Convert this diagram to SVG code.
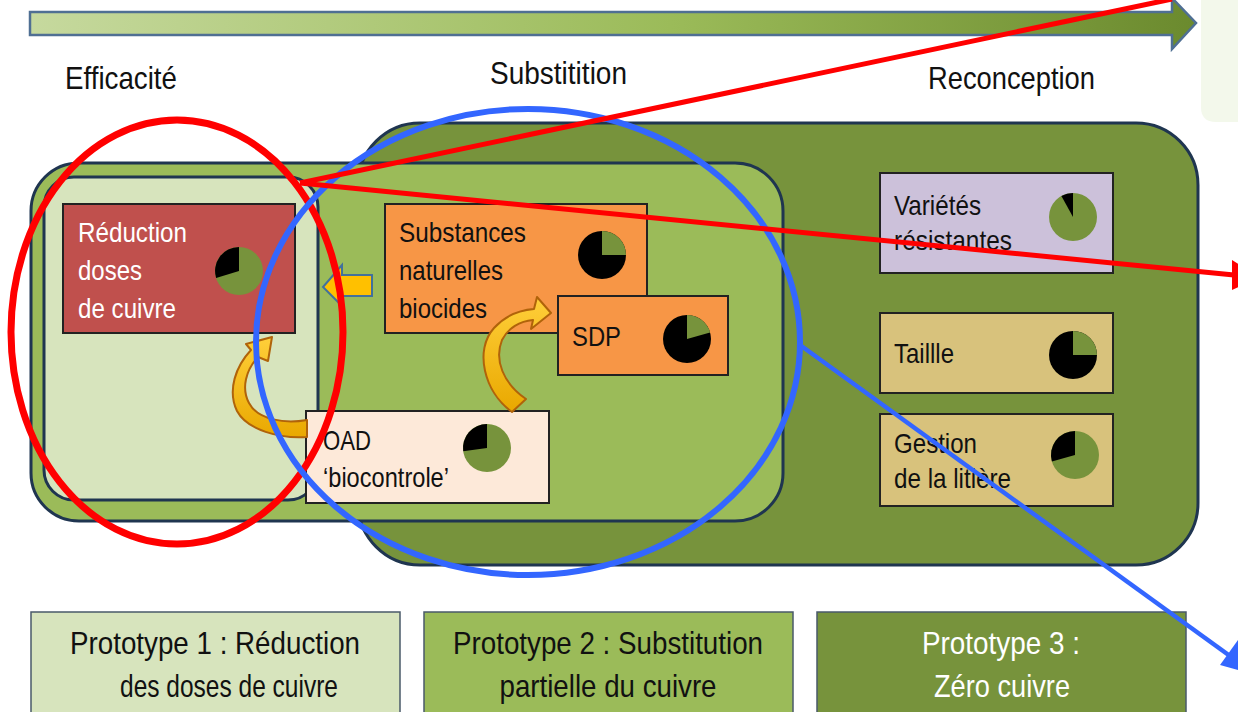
<svg xmlns="http://www.w3.org/2000/svg" width="1238" height="712" viewBox="0 0 1238 712">
<defs>
<linearGradient id="gTop" x1="0" y1="0" x2="1" y2="0">
<stop offset="0" stop-color="#c6d99e"/><stop offset="0.55" stop-color="#9bbb59"/><stop offset="1" stop-color="#6b8a2e"/>
</linearGradient>
<linearGradient id="gGold" x1="0" y1="0" x2="0" y2="1">
<stop offset="0" stop-color="#ffcf3a"/><stop offset="1" stop-color="#e9a800"/>
</linearGradient>
<style>
text{font-family:"Liberation Sans",Arial,sans-serif;fill:#111}
.hdr{font-size:32px}
.bx{font-size:28px}
.wt{fill:#fff}
.proto{font-size:32px;text-anchor:middle}
.box{stroke:#222;stroke-width:2}
.pane{stroke:#1f3550;stroke-width:3}
.pg{fill:#77933c}
.pb{fill:#000}
.gold{fill:url(#gGold);stroke:#b0630a;stroke-width:2;stroke-linejoin:round}
.red{stroke:#ff0000;stroke-width:7;fill:none}
.blue{stroke:#3366ff;stroke-width:6;fill:none}
.redl{stroke:#ff0000;stroke-width:5;fill:none}
.bluel{stroke:#3366ff;stroke-width:4.5;fill:none}
</style>
</defs>
<rect x="0" y="0" width="1238" height="712" fill="#ffffff"/>
<path d="M1201,0 H1238 V122 H1216 Q1201,122 1201,107 Z" fill="#f3f8eb"/>
<g id="timeline">
<polygon points="30,12 1172,12 1172,-2 1196,23 1172,49 1172,35 30,35" fill="url(#gTop)" stroke="#4f6f93" stroke-width="2.5"/>
<text class="hdr" x="65" y="89" textLength="112" lengthAdjust="spacingAndGlyphs">Efficacité</text>
<text class="hdr" x="490" y="84" textLength="137" lengthAdjust="spacingAndGlyphs">Substitition</text>
<text class="hdr" x="928" y="89" textLength="167" lengthAdjust="spacingAndGlyphs">Reconception</text>
</g>
<g id="zone-reconception"><rect class="pane" x="358" y="123" width="840" height="442" rx="62" fill="#77933c"/></g>
<g id="zone-substitution"><rect class="pane" x="31" y="163" width="752" height="358" rx="48" fill="#9bbb59"/></g>
<g id="zone-efficacite"><rect class="pane" x="44" y="177" width="274" height="323" rx="30" fill="#d7e4bd"/></g>

<g id="reduction">
<rect class="box" x="63" y="204" width="232" height="129" fill="#c0504d"/>
<text class="bx wt" x="78" y="242" textLength="109" lengthAdjust="spacingAndGlyphs">Réduction</text>
<text class="bx wt" x="78" y="280" textLength="64" lengthAdjust="spacingAndGlyphs">doses</text>
<text class="bx wt" x="78" y="318" textLength="98" lengthAdjust="spacingAndGlyphs">de cuivre</text>
<circle class="pg" cx="239" cy="271" r="24"/><path class="pb" d="M239,271 L216.1,278 A24,24 0 0 1 239,247 Z"/>
</g>
<g id="substances">
<rect class="box" x="385" y="204" width="262" height="129" fill="#f79646"/>
<text class="bx" x="399" y="242" textLength="127" lengthAdjust="spacingAndGlyphs">Substances</text>
<text class="bx" x="399" y="280" textLength="104" lengthAdjust="spacingAndGlyphs">naturelles</text>
<text class="bx" x="399" y="318" textLength="88" lengthAdjust="spacingAndGlyphs">biocides</text>
<circle class="pb" cx="602" cy="255" r="24"/><path class="pg" d="M602,255 L602,231 A24,24 0 0 1 626,255 Z"/>
</g>
<g id="sdp">
<rect class="box" x="558" y="296" width="170" height="79" fill="#f79646"/>
<text class="bx" x="572" y="346" textLength="49" lengthAdjust="spacingAndGlyphs">SDP</text>
<circle class="pb" cx="687" cy="339" r="24"/><path class="pg" d="M687,339 L687,315 A24,24 0 0 1 710.1,332.4 Z"/>
</g>
<g id="oad">
<rect class="box" x="306" y="411" width="243" height="92" fill="#fde9d9"/>
<text class="bx" x="323" y="450" textLength="48" lengthAdjust="spacingAndGlyphs">OAD</text>
<text class="bx" x="323" y="487" textLength="126" lengthAdjust="spacingAndGlyphs">‘biocontrole’</text>
<circle class="pg" cx="487" cy="448" r="24"/><path class="pb" d="M487,448 L463.2,451.3 A24,24 0 0 1 487,424 Z"/>
</g>
<g id="varietes">
<rect class="box" x="880" y="173" width="233" height="100" fill="#ccc1da"/>
<text class="bx" x="894" y="215" textLength="87" lengthAdjust="spacingAndGlyphs">Variétés</text>
<text class="bx" x="894" y="250" textLength="118" lengthAdjust="spacingAndGlyphs">résistantes</text>
<circle class="pg" cx="1073" cy="217" r="24"/><path class="pb" d="M1073,217 L1061.4,196 A24,24 0 0 1 1073,193 Z"/>
</g>
<g id="taille">
<rect class="box" x="880" y="313" width="233" height="80" fill="#d8c27c"/>
<text class="bx" x="894" y="363" textLength="60" lengthAdjust="spacingAndGlyphs">Taillle</text>
<circle class="pb" cx="1073" cy="355" r="24"/><path class="pg" d="M1073,355 L1073,331 A24,24 0 0 1 1097,355 Z"/>
</g>
<g id="gestion">
<rect class="box" x="880" y="414" width="233" height="92" fill="#d8c27c"/>
<text class="bx" x="894" y="453" textLength="83" lengthAdjust="spacingAndGlyphs">Gestion</text>
<text class="bx" x="894" y="488" textLength="117" lengthAdjust="spacingAndGlyphs">de la litière</text>
<circle class="pg" cx="1075" cy="455" r="24"/><path class="pb" d="M1075,455 L1051.9,461.6 A24,24 0 0 1 1075,431 Z"/>
</g>

<g id="prototypes">
<g id="proto1"><rect x="31" y="612" width="369" height="104" fill="#d7e4bd" stroke="#4a5a6a" stroke-width="1.5"/>
<text class="proto" x="215" y="654" textLength="290" lengthAdjust="spacingAndGlyphs">Prototype 1 : Réduction</text>
<text class="proto" x="229" y="697" textLength="218" lengthAdjust="spacingAndGlyphs">des doses de cuivre</text></g>
<g id="proto2"><rect x="424" y="612" width="369" height="104" fill="#9bbb59" stroke="#4a5a6a" stroke-width="1.5"/>
<text class="proto" x="608" y="654" textLength="310" lengthAdjust="spacingAndGlyphs">Prototype 2 : Substitution</text>
<text class="proto" x="608" y="697" textLength="217" lengthAdjust="spacingAndGlyphs">partielle du cuivre</text></g>
<g id="proto3"><rect x="817" y="612" width="369" height="104" fill="#77933c" stroke="#4a5a6a" stroke-width="1.5"/>
<text class="proto wt" x="1001" y="654" textLength="158" lengthAdjust="spacingAndGlyphs">Prototype 3 :</text>
<text class="proto wt" x="1002" y="697" textLength="136" lengthAdjust="spacingAndGlyphs">Zéro cuivre</text></g>
</g>

<g id="connectors">
<polygon points="372,275 342,275 342,265 323,287 342,306 342,296 372,296" fill="#ffc000" stroke="#41719c" stroke-width="2"/>
<path class="gold" d="M307,420 C285,424 258,420 249,403 C241,388 246,370 258,357 L268,361 L272,337 L246,344 L251,350 C236,366 227,390 237,411 C247,430 280,439 307,437 Z"/>
<path class="gold" d="M512,412 C484,392 474,350 494,328 C506,315 520,310 534,309 L537,297 L551,313 L531,329 L533,320 C520,321 508,328 502,340 C494,360 503,383 526,399 Z"/>
<ellipse class="red" cx="177" cy="332" rx="166" ry="212"/>
<ellipse class="blue" cx="528" cy="342" rx="272" ry="233"/>
<line class="redl" x1="300" y1="183" x2="1172" y2="-1"/>
<line class="redl" x1="300" y1="183" x2="1234" y2="275"/>
<polygon points="1232,260 1232,290 1260,277" fill="#ff0000"/>
<line class="bluel" x1="800" y1="345" x2="1230" y2="656"/>
<polygon points="1220,665 1238,640 1252,674" fill="#3366ff"/>
</g>
</svg>
